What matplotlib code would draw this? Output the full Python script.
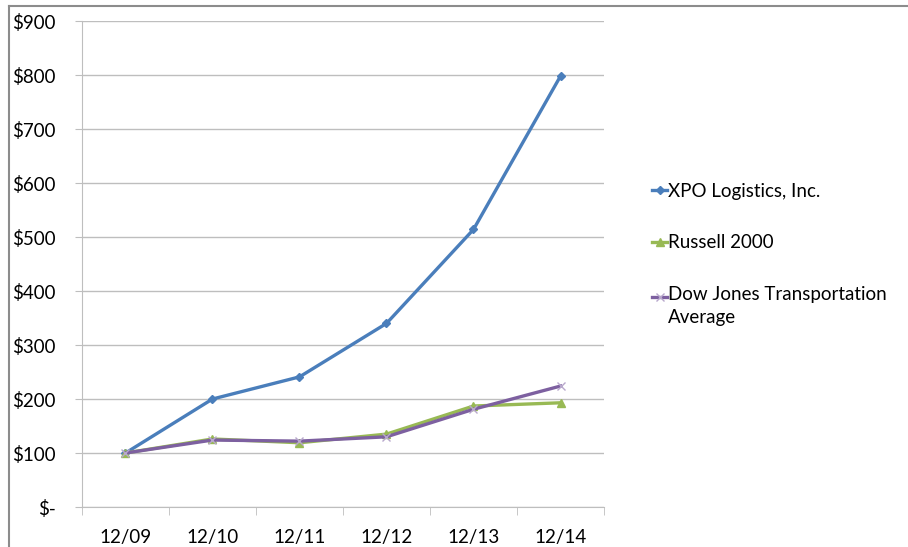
import matplotlib
matplotlib.use("Agg")
import matplotlib.pyplot as plt
from matplotlib.lines import Line2D
from matplotlib.legend_handler import HandlerLine2D

plt.rcParams["font.family"] = ["Lato", "DejaVu Sans"]

# Data
periods = ["12/09", "12/10", "12/11", "12/12", "12/13", "12/14"]
xpo = [100, 200, 241, 340, 514, 798]
russell = [100, 126, 119, 135, 187, 193]
djta = [100, 124, 122, 130, 181, 224]
y_ticks = [0, 100, 200, 300, 400, 500, 600, 700, 800, 900]

blue = "#4A7EBB"
green = "#98B954"
purple = "#7D60A0"
grid_gray = "#BEBEBE"


class TopLineHandler(HandlerLine2D):
    # put the legend marker next to the first line of a two-line label
    def create_artists(self, legend, orig_handle, xdescent, ydescent,
                       width, height, fontsize, trans):
        return super().create_artists(legend, orig_handle, xdescent, ydescent - 14,
                                       width, height, fontsize, trans)


fig = plt.figure(figsize=(9.08, 5.47), dpi=100)
ax = fig.add_axes([0.0903, 0.0731, 0.5749, 0.8885])

x = list(range(len(periods)))
ax.plot(x, xpo, color=blue, lw=2.4, marker="D", ms=4, label="XPO Logistics, Inc.")
ax.plot(x, russell, color=green, lw=2.4, marker="^", ms=6, label="Russell 2000")
dj_line, = ax.plot(x, djta, color=purple, lw=2.4, marker="x", ms=6, mec="#B8A8CC", mew=1,
                   label="Dow Jones Transportation\nAverage")

ax.set_xlim(-0.5, len(periods) - 0.5)
ax.set_ylim(0, 900)
ax.set_yticks(y_ticks)
ax.set_yticklabels(["$-" if v == 0 else f"${v}" for v in y_ticks])
ax.set_xticks(x)
ax.set_xticklabels(periods)
ax.set_xticks([i - 0.5 for i in range(len(periods) + 1)], minor=True)

ax.yaxis.grid(True, color=grid_gray, lw=1)
ax.set_axisbelow(True)
for s in ["top", "right"]:
    ax.spines[s].set_visible(False)
ax.spines["left"].set_color(grid_gray)
ax.spines["bottom"].set_color(grid_gray)
ax.tick_params(axis="y", length=5, color=grid_gray, pad=14, labelsize=13.5)
ax.tick_params(axis="x", which="major", length=0, pad=16, labelsize=13.5)
ax.tick_params(axis="x", which="minor", length=6, color=grid_gray)

leg = fig.legend(loc="upper left", bbox_to_anchor=(0.7, 0.697), frameon=False,
                 fontsize=13.5, handlelength=0.75, handletextpad=0.1, labelspacing=1.85,
                 handler_map={dj_line: TopLineHandler()})
for t in leg.get_texts():
    t.set_linespacing(1.45)

# outer chart border (top and left edges visible)
fig.add_artist(Line2D([0.0099, 1.0], [0.989, 0.989], color="#8C8C8C", lw=1.5))
fig.add_artist(Line2D([0.0099, 0.0099], [0.0, 0.989], color="#8C8C8C", lw=1.5))

fig.savefig("out.png", dpi=100)
